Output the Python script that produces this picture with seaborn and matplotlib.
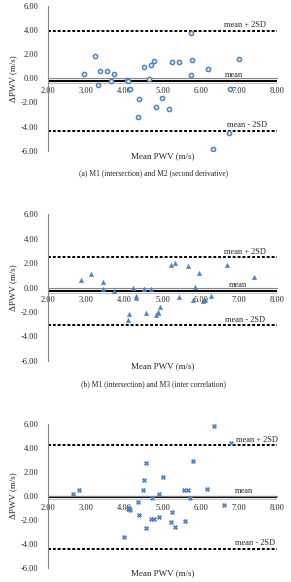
import matplotlib
matplotlib.use('Agg')
import matplotlib.pyplot as plt
import seaborn as sns
import pandas as pd

# panel a: M1 vs M2
a_mean = [2.93, 3.22, 3.29, 3.35, 3.54, 3.64, 3.71, 4.05, 4.08, 4.15, 4.35, 4.37, 4.52, 4.63,
          4.70, 4.76, 4.81, 4.99, 5.15, 5.23, 5.43, 5.73, 5.76, 5.75, 6.18, 6.31, 6.74, 6.76, 7.00]
a_diff = [0.40, 1.87, -0.54, 0.60, 0.60, -0.18, 0.40, -0.15, -0.18, -0.90, -3.17, -1.67, 0.98, -0.05,
          1.12, 1.45, -2.37, -1.60, -2.56, 1.32, 1.37, 3.78, 1.51, 0.27, 0.76, -5.89, -4.50, -0.90, 1.62]
a_lines = [-0.22, 3.92, -4.36]   # mean, mean+2SD, mean-2SD

# panel b: M1 vs M3
b_mean = [2.85, 3.11, 3.42, 3.43, 3.71, 4.08, 4.11, 4.22, 4.29, 4.31, 4.51, 4.52, 4.57, 4.70, 4.81,
          4.87, 4.88, 4.92, 5.21, 5.32, 5.42, 5.65, 5.80, 5.84, 5.96, 6.05, 6.10, 6.25, 6.68, 7.40]
b_diff = [0.58, 1.07, 0.47, -0.11, -0.27, -2.66, -2.19, -0.03, -0.66, -0.85, -0.11, -0.16, -2.11, -0.16, -2.25,
          -2.08, -2.00, -1.56, 1.86, 2.00, -0.79, 1.75, -1.04, 0.05, 1.21, -1.12, -1.04, -0.71, 1.86, 0.85]
b_lines = [-0.31, 2.47, -3.10]

# panel c
c_mean = [2.64, 2.80, 3.99, 4.08, 4.13, 4.11, 4.36, 4.38, 4.50, 4.49, 4.56, 4.56, 4.69, 4.71, 4.78,
          4.89, 4.91, 5.01, 5.21, 5.25, 5.33, 5.56, 5.58, 5.65, 5.72, 5.79, 6.15, 6.34, 6.59, 6.78]
c_diff = [0.17, 0.50, -3.42, -1.11, -1.19, -1.02, -0.50, -1.61, 1.33, 0.47, 2.72, -2.67, -1.92, -0.14, -1.94,
          0.19, -1.78, 1.58, -2.17, -1.31, -2.61, 0.47, -2.08, 0.50, -0.19, 2.89, 0.56, 5.81, -0.75, 4.42]
c_lines = [-0.08, 4.22, -4.39]

captions = ['(a) M1 (intersection) and M2 (second derivative)',
            '(b) M1 (intersection) and M3 (inter correlation)',
            None]
xticks = [2, 3, 4, 5, 6, 7, 8]
yticks = [-6, -4, -2, 0, 2, 4, 6]

sns.set_style('white')
plt.rcParams['font.family'] = ['Liberation Serif', 'DejaVu Serif']

blue = '#4F81BD'
axis_gray = '#868686'

fig = plt.figure(figsize=(2.91, 5.82), dpi=100)

panels = [
    (a_mean, a_diff, a_lines, [0.741, 0.2487], dict(marker='o', facecolor='white', edgecolor=blue, linewidth=1.1, s=9),
     [6.60, 6.63, 6.67]),
    (b_mean, b_diff, b_lines, [0.3802, 0.2516], dict(marker='^', color=blue, edgecolor=blue, linewidth=0.3, s=10),
     [6.61, 6.72, 6.63]),
    (c_mean, c_diff, c_lines, [0.0241, 0.2474], dict(marker='X', color=blue, edgecolor=blue, linewidth=0.3, s=10),
     [6.93, 6.89, 6.89]),
]

for i, (xm, yd, lines, (bot, h), mk, txt_x) in enumerate(panels):
    ax = fig.add_axes([0.166, bot, 0.787, h])
    df = pd.DataFrame({'Mean PWV': xm, 'dPWV': yd})
    mean, up, lo = lines

    # limits of agreement
    ax.axhline(up, color='black', lw=1.4, ls=(0, (1.5, 1)), zorder=2)
    ax.axhline(lo, color='black', lw=1.4, ls=(0, (1.5, 1)), zorder=2)
    # mean line with grey halo
    ax.axhline(mean, color='#c0c0c0', lw=3.6, zorder=1)
    ax.axhline(mean, color='white', lw=2.6, zorder=1)
    ax.axhline(mean, color='black', lw=1.4, zorder=2)

    sns.scatterplot(data=df, x='Mean PWV', y='dPWV', ax=ax, zorder=3, legend=False, **mk)

    ax.text(txt_x[0], up + 0.15, 'mean + 2SD', fontsize=6, ha='left', va='bottom')
    ax.text(txt_x[1], mean + 0.15, 'mean', fontsize=6, ha='left', va='bottom')
    ax.text(txt_x[2], lo + 0.15, 'mean - 2SD', fontsize=6, ha='left', va='bottom')

    ax.set_xlim(2, 8)
    ax.set_ylim(-6, 6)
    ax.set_xticks(xticks)
    ax.set_yticks(yticks)
    ax.set_xticklabels(['%.2f' % v for v in xticks])
    ax.set_yticklabels(['%.2f' % v for v in yticks])
    ax.spines['top'].set_visible(False)
    ax.spines['right'].set_visible(False)
    ax.spines['bottom'].set_position(('data', 0))
    for s in ['left', 'bottom']:
        ax.spines[s].set_color(axis_gray)
        ax.spines[s].set_linewidth(0.8)
    ax.tick_params(axis='both', direction='out', length=2, width=0.6, color=axis_gray, labelsize=6)
    ax.tick_params(axis='x', pad=4)
    ax.tick_params(axis='y', pad=5)
    ax.set_xlabel('')
    ax.set_ylabel('ΔPWV (m/s)', fontsize=6.5, labelpad=3)
    ax.text(0.5, -0.01, 'Mean PWV (m/s)', transform=ax.transAxes, fontsize=6.5, ha='center', va='top')
    if captions[i]:
        ax.text(0.46, -0.13, captions[i], transform=ax.transAxes, fontsize=5.5, ha='center', va='top')

fig.savefig('out.png', dpi=100)
